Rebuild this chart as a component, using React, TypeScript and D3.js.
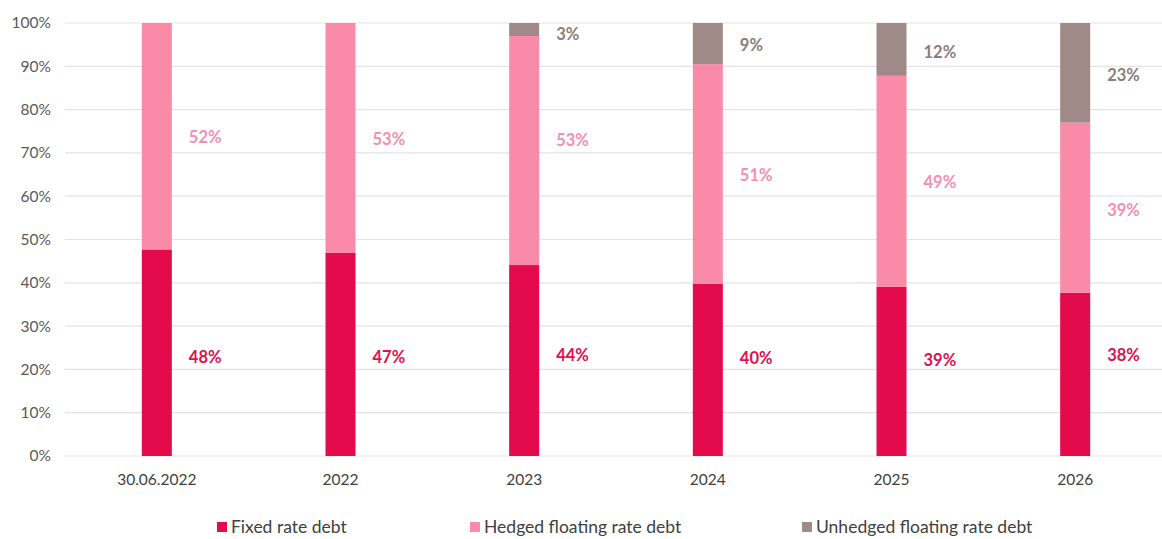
import React from "react";
import * as d3 from "d3";

const categories = ["30.06.2022", "2022", "2023", "2024", "2025", "2026"];
const fixedValues = [47.7, 46.9, 44.1, 39.8, 39.1, 37.7];
const hedgedValues = [52.3, 53.1, 52.9, 50.7, 48.7, 39.3];
const unhedgedValues = [0, 0, 3.0, 9.5, 12.2, 23.0];
const fixedLabels = ["48%", "47%", "44%", "40%", "39%", "38%"];
const hedgedLabels = ["52%", "53%", "53%", "51%", "49%", "39%"];
const unhedgedLabels = ["", "", "3%", "9%", "12%", "23%"];
// value-axis anchor (in %) where each data label sits
const fixedLabelAt = [22.9, 22.9, 23.3, 22.6, 22.2, 23.3];
const hedgedLabelAt = [73.7, 73.2, 72.9, 64.9, 63.3, 56.8];
const unhedgedLabelAt = [0, 0, 97.5, 94.9, 93.3, 87.9];
const yTicks = [0, 10, 20, 30, 40, 50, 60, 70, 80, 90, 100];
const seriesNames = ["Fixed rate debt", "Hedged floating rate debt", "Unhedged floating rate debt"];

const W = 1162;
const H = 539;
const FONT = "Lato, 'Open Sans', sans-serif";

const colors = ["#E30B4C", "#F98AA8", "#A08A88"];
const labelColors = ["#E0104F", "#F48FB0", "#8C7E7B"];

export default function App() {
  const x = d3.scaleBand<string>().domain(categories).range([65, 1167]).paddingInner(0).paddingOuter(0);
  const y = d3.scaleLinear().domain([0, 100]).range([456, 23]);
  const barW = 30;

  const rows = categories.map((c, i) => ({
    cat: c,
    fixed: fixedValues[i],
    hedged: hedgedValues[i],
    unhedged: unhedgedValues[i],
  }));
  const stack = d3.stack<any>().keys(["fixed", "hedged", "unhedged"])(rows);
  const labelSets = [fixedLabels, hedgedLabels, unhedgedLabels];
  const labelAts = [fixedLabelAt, hedgedLabelAt, unhedgedLabelAt];

  const legendX = [217, 470, 802];

  return (
    <svg width={W} height={H} style={{ position: "absolute", left: 0, top: 0, background: "#fff" }}>
      {yTicks.map((t) => (
        <g key={t}>
          <line x1={65} x2={1162} y1={y(t)} y2={y(t)} stroke="#E3E3E3" strokeWidth={1.2} />
          <text x={51} y={y(t)} dy="0.35em" textAnchor="end" fontFamily={FONT} fontSize={15.5} fill="#595959">
            {t}%
          </text>
        </g>
      ))}
      {stack.map((s, si) => (
        <g key={si}>
          {s.map((d, i) => {
            const cx = x(categories[i])! + x.bandwidth() / 2;
            const h = y(d[0]) - y(d[1]);
            if (h <= 0) return null;
            return (
              <rect key={i} x={cx - barW / 2} y={y(d[1])} width={barW} height={h} fill={colors[si]} />
            );
          })}
        </g>
      ))}
      {stack.map((s, si) => (
        <g key={"l" + si}>
          {s.map((d, i) => {
            const lab = labelSets[si][i];
            if (!lab) return null;
            const cx = x(categories[i])! + x.bandwidth() / 2;
            return (
              <text key={i} x={cx + barW / 2 + 17} y={y(labelAts[si][i])} dy="0.35em" fontFamily={FONT} fontSize={16.5} fontWeight="bold" fill={labelColors[si]}>
                {lab}
              </text>
            );
          })}
        </g>
      ))}
      {categories.map((c) => (
        <text key={c} x={x(c)! + x.bandwidth() / 2} y={480} dy="0.35em" textAnchor="middle" fontFamily={FONT} fontSize={15.5} fill="#404040">
          {c}
        </text>
      ))}
      {seriesNames.map((n, i) => (
        <g key={n}>
          <rect x={legendX[i]} y={522} width={10} height={10} fill={colors[i]} />
          <text x={legendX[i] + 14} y={527} dy="0.35em" fontFamily={FONT} fontSize={17.5} fill="#404040">
            {n}
          </text>
        </g>
      ))}
    </svg>
  );
}
